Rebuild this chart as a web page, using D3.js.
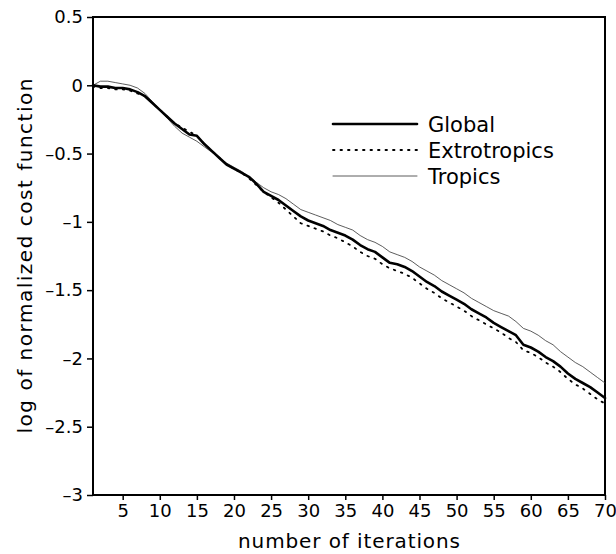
<!DOCTYPE html>
<html>
<head>
<meta charset="utf-8">
<script src="https://cdn.jsdelivr.net/npm/d3@7"></script>
<style>
  body { margin: 0; background: #fff; }
  text { font-family: "DejaVu Sans", sans-serif; }
</style>
</head>
<body>
<div id="chart"></div>
<script>
// values, one per iteration (1..70)
var globalVals = [0, -0.01, -0.01, -0.02, -0.02, -0.03, -0.05, -0.08, -0.13, -0.18,
  -0.23, -0.28, -0.32, -0.36, -0.37, -0.43, -0.48, -0.53, -0.58, -0.61,
  -0.64, -0.67, -0.72, -0.78, -0.81, -0.84, -0.88, -0.92, -0.96, -0.99,
  -1.01, -1.03, -1.06, -1.08, -1.10, -1.13, -1.17, -1.20, -1.22, -1.26,
  -1.30, -1.31, -1.33, -1.36, -1.40, -1.44, -1.47, -1.51, -1.54, -1.57,
  -1.60, -1.64, -1.67, -1.70, -1.74, -1.77, -1.80, -1.83, -1.90, -1.92,
  -1.95, -1.99, -2.02, -2.06, -2.11, -2.15, -2.18, -2.21, -2.25, -2.29]

var extroVals = [-0.01, -0.02, -0.02, -0.03, -0.03, -0.04, -0.06, -0.08, -0.13, -0.18,
  -0.23, -0.28, -0.31, -0.34, -0.37, -0.43, -0.48, -0.53, -0.58, -0.61,
  -0.64, -0.68, -0.73, -0.78, -0.82, -0.86, -0.91, -0.96, -1.01, -1.03,
  -1.05, -1.07, -1.10, -1.12, -1.15, -1.18, -1.22, -1.25, -1.27, -1.31,
  -1.34, -1.36, -1.38, -1.41, -1.45, -1.49, -1.52, -1.56, -1.59, -1.62,
  -1.65, -1.69, -1.72, -1.75, -1.78, -1.81, -1.85, -1.88, -1.94, -1.96,
  -1.99, -2.03, -2.06, -2.10, -2.15, -2.19, -2.22, -2.26, -2.30, -2.33]

var tropicsVals = [0, 0.03, 0.03, 0.02, 0.01, 0.0, -0.02, -0.06, -0.12, -0.18,
  -0.24, -0.30, -0.35, -0.38, -0.41, -0.45, -0.49, -0.53, -0.57, -0.60,
  -0.63, -0.67, -0.71, -0.75, -0.78, -0.80, -0.83, -0.87, -0.91, -0.93,
  -0.95, -0.97, -0.99, -1.02, -1.04, -1.06, -1.10, -1.13, -1.15, -1.18,
  -1.22, -1.24, -1.26, -1.29, -1.33, -1.36, -1.39, -1.43, -1.46, -1.49,
  -1.52, -1.56, -1.59, -1.62, -1.65, -1.67, -1.69, -1.73, -1.78, -1.80,
  -1.83, -1.87, -1.90, -1.95, -1.99, -2.03, -2.06, -2.10, -2.14, -2.18]

var xTicks = [5, 10, 15, 20, 25, 30, 35, 40, 45, 50, 55, 60, 65, 70]
var yTicks = [0.5, 0, -0.5, -1, -1.5, -2, -2.5, -3]
var seriesNames = ["Global", "Extrotropics", "Tropics"]

var width = 616
var height = 554
var margin = ({ top: 17, right: 11, bottom: 59, left: 93 })

var x = d3.scaleLinear()
  .domain([1, 70])
  .range([margin.left, width - margin.right])

var y = d3.scaleLinear()
  .domain([-3, 0.5])
  .range([height - margin.bottom, margin.top])

var svg = d3.select("#chart").append("svg")
  .attr("width", width)
  .attr("height", height)

var styles = {
  "Global": { width: 2.6, dash: null, color: "#000" },
  "Extrotropics": { width: 1.8, dash: "1.5,6", color: "#000" },
  "Tropics": { width: 0.8, dash: null, color: "#333" }
}

var line = d3.line()
  .x((d, i) => x(i + 1))
  .y(d => y(d))

// frame
svg.append("rect")
  .attr("x", x(1))
  .attr("y", y(0.5))
  .attr("width", x(70) - x(1))
  .attr("height", y(-3) - y(0.5))
  .attr("fill", "none")
  .attr("stroke", "#000")
  .attr("stroke-width", 2)

var xAxis = g => g
  .attr("transform", `translate(0,${y(-3)})`)
  .call(d3.axisBottom(x).tickValues(xTicks).tickSize(5).tickFormat(d3.format("d")))
  .call(g => g.select(".domain").remove())
  .call(g => g.selectAll(".tick line").attr("stroke-width", 1.5))
  .call(g => g.selectAll(".tick text").attr("y", 9))

var yAxis = g => g
  .attr("transform", `translate(${x(1)},0)`)
  .call(d3.axisLeft(y).tickValues(yTicks).tickSize(6).tickFormat(d => d < 0 ? "\u2013" + Math.abs(d) : d))
  .call(g => g.select(".domain").remove())
  .call(g => g.selectAll(".tick line").attr("stroke-width", 1.5))
  .call(g => g.selectAll(".tick text").attr("x", -10))

svg.append("g").call(xAxis)
  .attr("font-size", 18).attr("font-family", "DejaVu Sans, sans-serif")
svg.append("g").call(yAxis)
  .attr("font-size", 18).attr("font-family", "DejaVu Sans, sans-serif")

svg.append("text")
  .attr("x", (x(1) + x(70)) / 2)
  .attr("y", 548)
  .attr("text-anchor", "middle")
  .attr("font-size", 20)
  .attr("textLength", 222)
  .attr("lengthAdjust", "spacing")
  .text("number of iterations")

svg.append("text")
  .attr("transform", `translate(32,${(y(0.5) + y(-3)) / 2}) rotate(-90)`)
  .attr("text-anchor", "middle")
  .attr("font-size", 20)
  .attr("textLength", 355)
  .attr("lengthAdjust", "spacing")
  .text("log of normalized cost function")

var dataBySeries = {
  "Global": globalVals,
  "Extrotropics": extroVals,
  "Tropics": tropicsVals
}

// draw tropics first, global on top
;["Tropics", "Extrotropics", "Global"].forEach(name => {
  var s = styles[name]
  svg.append("path")
    .datum(dataBySeries[name])
    .attr("fill", "none")
    .attr("stroke", s.color)
    .attr("stroke-width", s.width)
    .attr("stroke-dasharray", s.dash)
    .attr("stroke-linejoin", "round")
    .attr("stroke-linecap", "round")
    .attr("d", line)
})

var legend = svg.append("g")
  .attr("transform", "translate(333,124)")
  .selectAll("g")
  .data(seriesNames)
  .join("g")
  .attr("transform", (d, i) => `translate(0,${i * 26})`)

legend.append("line")
  .attr("x1", 0)
  .attr("x2", 84)
  .attr("stroke", d => styles[d].color)
  .attr("stroke-width", d => styles[d].width)
  .attr("stroke-dasharray", d => styles[d].dash)
  .attr("stroke-linecap", "round")

legend.append("text")
  .attr("x", 95)
  .attr("dy", "0.37em")
  .attr("font-size", 21)
  .text(d => d)
</script>
</body>
</html>
